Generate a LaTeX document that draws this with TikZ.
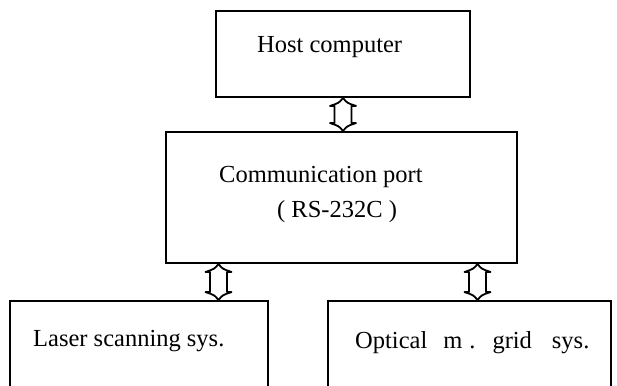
\documentclass[tikz,border=0pt]{standalone}
\usepackage{fontspec}
\setmainfont{Liberation Serif}
\usetikzlibrary{calc}
\begin{document}
\begin{tikzpicture}[x=1pt,y=-1pt,
  box/.style={draw=black,line width=1.9pt,rectangle,inner sep=0pt},
  lbl/.style={anchor=base west,inner sep=0pt,font=\fontsize{24.5}{28}\selectfont},
  % hollow double-headed link: shaft half width 8.5pt, barbs 13pt, heads 8pt long
  dbllink/.style={draw=black,fill=white,line width=1.8pt,line join=round,
    to path={let \p1=(\tikztostart), \p2=(\tikztotarget) in
      (\x1,\y1) .. controls (\x1-4pt,\y1-5pt) .. (\x1-13pt,\y1-8pt)
      -- (\x1-8.5pt,\y1-8pt) -- (\x2-8.5pt,\y2+8pt) -- (\x2-13pt,\y2+8pt)
      .. controls (\x2-4pt,\y2+5pt) .. (\x2,\y2)
      .. controls (\x2+4pt,\y2+5pt) .. (\x2+13pt,\y2+8pt)
      -- (\x2+8.5pt,\y2+8pt) -- (\x1+8.5pt,\y1-8pt) -- (\x1+13pt,\y1-8pt)
      .. controls (\x1+4pt,\y1-5pt) .. (\x1,\y1) -- cycle}}]
\useasboundingbox[fill=white] (0,0) rectangle (617,385);

% blocks
\node[box,minimum width=254pt,minimum height=86pt] (host) at (343,54) {};
\node[box,minimum width=351pt,minimum height=131pt] (port) at (341.5,197.5) {};
\node[box,minimum width=258pt,minimum height=139pt] (laser) at (139,370.5) {};
\node[box,minimum width=283pt,minimum height=139pt] (grid) at (469.5,370.5) {};

% block texts
\node[lbl] (thost) at (257,53) {Host computer};
\node[lbl] (tport) at (219,182) {Communication port};
\node[lbl] (trs) at (277,217) {( RS-232C )};
\node[lbl] (tlaser) at (33,346) {Laser scanning sys.};
\node[lbl] (tgrid) at (355,348) {Optical\hspace{16pt}m\hspace{7pt}.\hspace{17pt}grid\hspace{20pt}sys.};

% bidirectional data links
\coordinate (c1) at (343,0);
\coordinate (c2) at (218.5,0);
\coordinate (c3) at (477.5,0);
\draw[dbllink] (host.south -| c1) to (port.north -| c1);
\draw[dbllink] (port.south -| c2) to (laser.north -| c2);
\draw[dbllink] (port.south -| c3) to (grid.north -| c3);
\end{tikzpicture}
\end{document}
